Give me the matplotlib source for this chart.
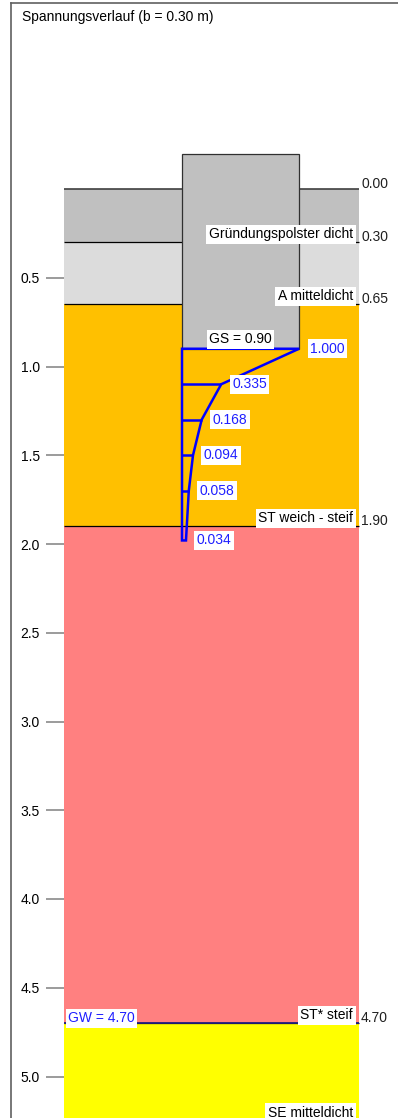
import matplotlib
matplotlib.use('Agg')
import matplotlib.pyplot as plt
from matplotlib.patches import Rectangle, Polygon
from matplotlib.lines import Line2D

plt.rcParams['font.family'] = ['Liberation Sans', 'DejaVu Sans']

# ---------------- data ----------------
title = "Spannungsverlauf (b = 0.30 m)"
layer_names = ["Gründungspolster dicht", "A mitteldicht", "ST weich - steif", "ST* steif", "SE mitteldicht"]
layer_tops = [0.00, 0.30, 0.65, 1.90, 4.70]
layer_bottoms = [0.30, 0.65, 1.90, 4.70, 5.25]
layer_colors = ["#C0C0C0", "#DCDCDC", "#FFC000", "#FF8080", "#FFFF00"]
foundation_top = -0.20
foundation_base = 0.90          # GS
gw_depth = 4.70
stress_depths = [0.90, 1.10, 1.30, 1.50, 1.70, 1.98]
stress_values = [1.000, 0.335, 0.168, 0.094, 0.058, 0.034]
tick_depths = [0.5, 1.0, 1.5, 2.0, 2.5, 3.0, 3.5, 4.0, 4.5, 5.0]
tick_labels = ["0.5", "1.0", "1.5", "2.0", "2.5", "3.0", "3.5", "4.0", "4.5", "5.0"]

# ---------------- layout ----------------
W, H, DPI = 398, 1118, 100
PX_M = 177.5      # pixels per metre
Y0 = 189.0        # pixel row of depth 0
COL_L, COL_R = 64, 359
F_L, F_R = 182, 299
FS = 10
BLUE = "#1f1fff"

def px(p):  # pixels -> metres (vertical)
    return p / PX_M

fig = plt.figure(figsize=(W / DPI, H / DPI), dpi=DPI)
ax = fig.add_axes([COL_L / W, 0, (W - COL_L) / W, 1])
ax.set_xlim(COL_L, W)
ax.set_ylim((H - Y0) / PX_M, -Y0 / PX_M)
for s in ax.spines.values():
    s.set_visible(False)
ax.set_xticks([])
ax.set_yticks(tick_depths)
ax.set_yticklabels(tick_labels)
ax.tick_params(axis='y', direction='out', length=13, width=1.1, color='#808080',
               pad=4.3, labelsize=FS, labelcolor='black')

# layers
for i, (top, bot, col) in enumerate(zip(layer_tops, layer_bottoms, layer_colors)):
    ax.add_patch(Rectangle((COL_L, top), COL_R - COL_L, bot - top, fc=col, ec='none', zorder=1))
    ax.hlines(top, COL_L, COL_R, color='#404040' if i == 0 else 'black',
              lw=1.2 if i == 0 else 0.9, zorder=2)

# groundwater line
ax.hlines(gw_depth, COL_L, COL_R, color='#202080', lw=1.3, zorder=2.5)

# foundation
ax.add_patch(Rectangle((F_L, foundation_top), F_R - F_L, foundation_base - foundation_top,
                       fc='#C0C0C0', ec='#303030', lw=0.9, zorder=3))

# stress diagram
xs = [F_L + v * (F_R - F_L) for v in stress_values]
poly = [(F_L, stress_depths[0])] + list(zip(xs, stress_depths)) + [(F_L, stress_depths[-1])]
ax.add_patch(Polygon(poly, closed=True, fill=False, ec='#0000ff', lw=1.8, zorder=4))
for x, d in zip(xs[1:-1], stress_depths[1:-1]):
    ax.plot([F_L, x], [d, d], color='#0000ff', lw=1.8, zorder=4, solid_capstyle='butt')

box = dict(boxstyle='square,pad=0.18', fc='white', ec='none')
for x, d, v in zip(xs, stress_depths, stress_values):
    ax.text(x + 11, d, f"{v:.3f}", color=BLUE, fontsize=FS, ha='left', va='center',
            bbox=box, zorder=5)

# GS label
ax.text((F_L + F_R) / 2, foundation_base - px(9.7), f"GS = {foundation_base:.2f}",
        color='black', fontsize=FS, ha='center', va='center', bbox=box, zorder=5)

# layer names and depths
for i, (name, top, bot) in enumerate(zip(layer_names, layer_tops, layer_bottoms)):
    ax.text(353, bot - px(8), name, fontsize=FS, ha='right', va='center', bbox=box, zorder=5)
for d in layer_tops:
    ax.text(361, d - px(5.5), f"{d:.2f}", fontsize=FS, ha='left', va='center',
            color='#202020', zorder=5, clip_on=False)

# GW label
ax.text(68, gw_depth - px(5), f"GW = {gw_depth:.2f}", color=BLUE, fontsize=FS,
        ha='left', va='center', bbox=box, zorder=5)

# frame and title
fig.add_artist(Line2D([11 / W, 11 / W], [0, 1 - 2.5 / H], color='#606060', lw=1.2))
fig.add_artist(Line2D([11 / W, 1], [1 - 2.5 / H, 1 - 2.5 / H], color='#606060', lw=1.2))
fig.text(22 / W, 1 - 17 / H, title, fontsize=FS, ha='left', va='center')

fig.savefig('out.png', dpi=DPI)
